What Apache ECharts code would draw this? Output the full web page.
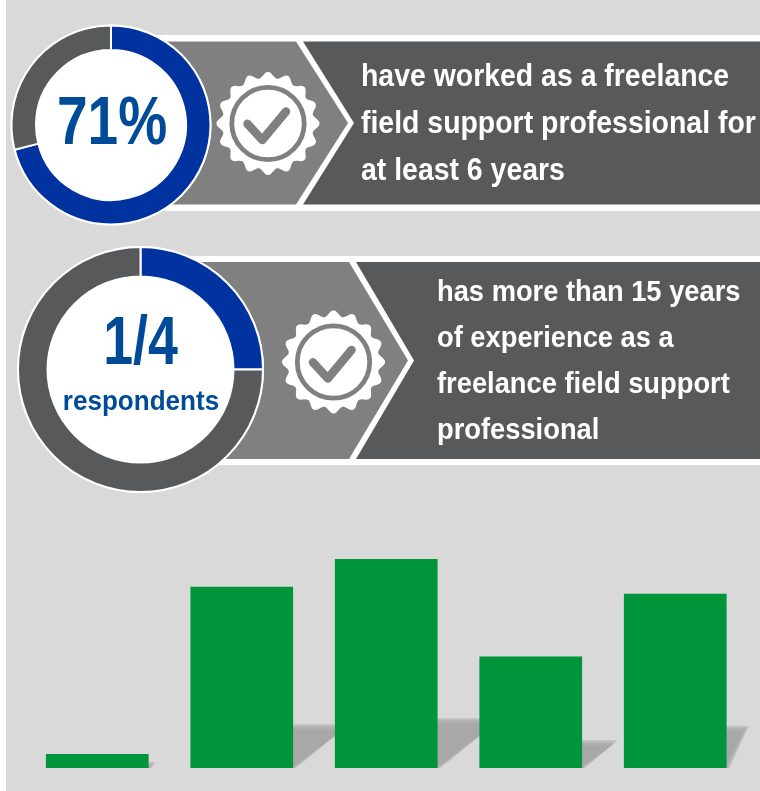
<!DOCTYPE html>
<html>
<head>
<meta charset="utf-8">
<style>html,body{margin:0;padding:0;background:#fff}#chart{width:760px;height:791px}</style>
<script src="https://cdn.jsdelivr.net/npm/echarts@6/dist/echarts.min.js"></script>
</head>
<body>
<div id="chart"></div>
<script>
// Years of experience bars
const experienceBands = ['Less than 1 year', '1-5 years', '6-10 years', '11-15 years', 'More than 15 years'];
const experienceShares = [2, 26, 30, 16, 25];

// Headline rings
const ringFreelanceSix = [71, 29];
const ringFifteenPlus = [25, 75];
const headlineOne = '71%';
const headlineTwo = '1/4';
const headlineTwoUnit = 'respondents';
const linesOne = ['have worked as a freelance', 'field support professional for', 'at least 6 years'];
const linesTwo = ['has more than 15 years', 'of experience as a', 'freelance field support', 'professional'];

const BLUE = '#0033a0', DARK = '#58595b', MID = '#808080', INK = '#004b98', GREEN = '#00953b', PANEL = '#d9d9d9';
const FONT = '"Liberation Sans", Arial, sans-serif';

// Banner: white plate, mid-grey arrow, dark panel with a notched left edge
function banner(top, bottom, plateTop, plateBottom, arrowX, arrowTip, panelX, notchX, leftX) {
  const mid = (top + bottom) / 2;
  return [
    { type: 'rect', z: 1, shape: { x: leftX, y: plateTop, width: 760 - leftX, height: plateBottom - plateTop }, style: { fill: '#fff' } },
    { type: 'polygon', z: 1, shape: { points: [[leftX, top], [arrowX, top], [arrowTip, mid], [arrowX, bottom], [leftX, bottom]] }, style: { fill: MID } },
    { type: 'polygon', z: 1, shape: { points: [[panelX, top], [760, top], [760, bottom], [panelX, bottom], [notchX, mid]] }, style: { fill: DARK } }
  ];
}

// Scalloped seal with a ringed check mark
function seal(cx, cy) {
  const pts = [];
  const teeth = 16, steps = teeth * 12;
  for (let i = 0; i < steps; i++) {
    const a = i / steps * Math.PI * 2;
    const r = 48.6 + 3 * Math.cos(a * teeth);
    pts.push([cx + r * Math.cos(a), cy + r * Math.sin(a)]);
  }
  return [
    { type: 'polygon', z: 3, shape: { points: pts }, style: { fill: '#fff' } },
    { type: 'circle', z: 3, shape: { cx, cy, r: 36.2 }, style: { fill: '#fff', stroke: MID, lineWidth: 4.8 } },
    { type: 'polyline', z: 3, shape: { points: [[cx - 20.5, cy + 0.3], [cx - 5.7, cy + 16.5], [cx + 18, cy - 12]] }, style: { fill: 'none', stroke: MID, lineWidth: 8.5, lineCap: 'round', lineJoin: 'round' } }
  ];
}

// Baseline-positioned text: the em box is centred 0.35em above the baseline
function textBlock(lines, x, baselines, size, scaleX) {
  return lines.map((t, i) => ({
    type: 'text', z: 5, x, y: baselines[i] - size * 0.35, scaleX,
    style: { text: t, fill: '#fff', font: 'bold ' + size + 'px ' + FONT, verticalAlign: 'middle' }
  }));
}

function centerText(t, cx, base, size, scaleX) {
  return { type: 'text', z: 5, x: cx, y: base - size * 0.35, scaleX,
    style: { text: t, fill: INK, align: 'center', font: 'bold ' + size + 'px ' + FONT, verticalAlign: 'middle' } };
}

function ring(values, cx, cy, inner, outer, colors) {
  return {
    type: 'pie', z: 4, silent: true, animation: false, clockwise: true, startAngle: 90,
    center: [cx, cy], radius: [inner, outer],
    label: { show: false }, labelLine: { show: false },
    itemStyle: { borderColor: '#fff', borderWidth: 2 },
    data: values.map((v, i) => ({ value: v, itemStyle: { color: colors[i] } }))
  };
}

const graphicElements = [
  { type: 'rect', z: 0, shape: { x: 6, y: 0, width: 754, height: 791 }, style: { fill: PANEL } },
  ...banner(41.5, 204.5, 35, 211, 296, 348, 303, 354, 140),
  ...banner(262, 459, 256, 465, 349, 408, 356, 414, 170),
  { type: 'circle', z: 3, shape: { cx: 111, cy: 125, r: 100.5 }, style: { fill: '#fff' } },
  { type: 'circle', z: 3, shape: { cx: 140.5, cy: 369.5, r: 123.5 }, style: { fill: '#fff' } },
  ...seal(268, 123.5),
  ...seal(333.5, 362),
  ...textBlock(linesOne, 361, [88, 135, 182], 31, 0.917),
  ...textBlock(linesTwo, 437, [303, 349, 395, 441], 30, 0.91),
  centerText(headlineOne, 112, 149, 68, 0.81),
  centerText(headlineTwo, 140.5, 369, 68, 0.79),
  centerText(headlineTwoUnit, 141, 412, 28, 0.93)
];

const chart = echarts.init(document.getElementById('chart'), null, { renderer: 'canvas' });
chart.setOption({
  animation: false,
  backgroundColor: '#fff',
  graphic: { elements: graphicElements },
  grid: { left: 25, width: 722.5, top: 559, height: 209, containLabel: false },
  xAxis: { type: 'category', data: experienceBands, show: false },
  yAxis: { type: 'value', min: 0, max: 30, show: false },
  series: [
    ring(ringFreelanceSix, 111, 125, 75, 99.5, [BLUE, DARK]),
    ring(ringFifteenPlus, 140.5, 369.5, 93, 122.5, [BLUE, DARK]),
    {
      // Slanted cast shadow behind each bar, derived from the bar's own value;
      // stacked translucent layers give it a soft edge
      type: 'custom', z: 2, silent: true, clip: false,
      data: experienceShares,
      encode: { x: 0, y: 1 },
      renderItem(params, api) {
        const band = api.value(0);
        const base = api.coord([band, 0]);
        const top = api.coord([band, api.value(1)]);
        const half = 102.7 / 2;
        const rise = (base[1] - top[1]) * 0.225;
        const run = rise * 1.3;
        const limit = 746;
        const layers = [-3, -1.5, 0, 1.5, 3].map((d) => ({
          type: 'polygon',
          shape: { points: [
            [base[0] - half, base[1]],
            [Math.min(base[0] + half + d, limit + d), base[1]],
            [Math.min(base[0] + half + run + d, limit + d), base[1] - rise - d],
            [base[0] - half + run, base[1] - rise - d]
          ] },
          style: { fill: '#a6a6a6', opacity: 0.4 }
        }));
        return { type: 'group', children: layers };
      }
    },
    {
      type: 'bar', z: 3, silent: true, barWidth: 102.7,
      itemStyle: { color: GREEN },
      data: experienceShares
    }
  ]
});
</script>
</body>
</html>
